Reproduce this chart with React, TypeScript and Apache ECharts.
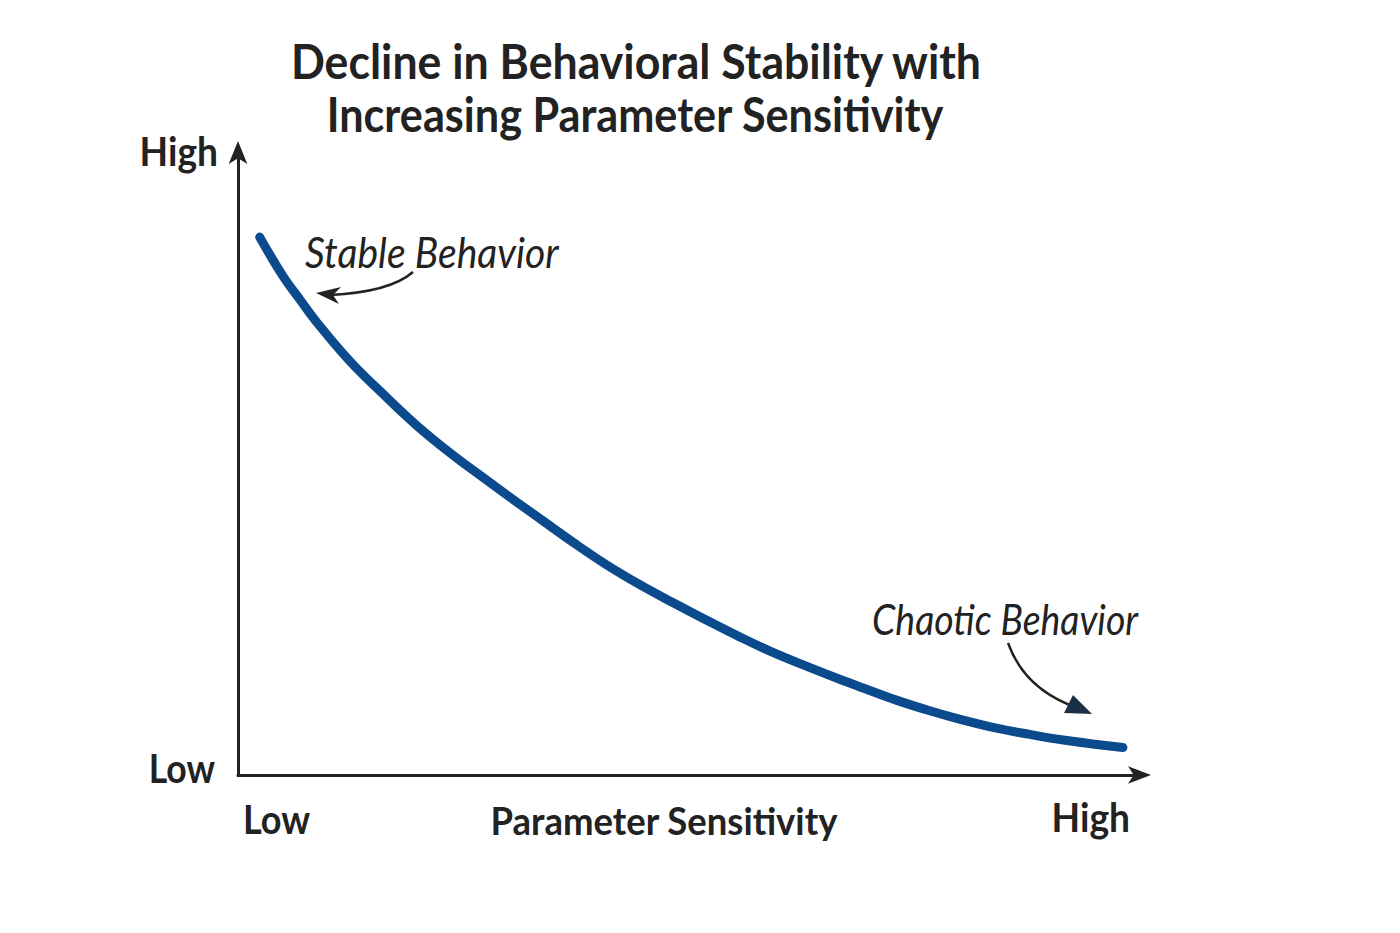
import React, { useEffect, useRef } from "react";
import * as echarts from "echarts";

// Curve: behavioural stability against parameter sensitivity (0–100 scales)
const sensitivity = [2.4, 5.0, 6.9, 8.7, 12.4, 16.1, 19.8, 23.5, 27.2, 30.9, 33.8, 37.1, 40.8, 44.5, 48.2, 51.9, 55.6, 59.3, 63.0, 66.7, 69.3, 72.9, 76.6, 80.3, 84.0, 87.7, 91.4, 95.1, 98.0];
const stability = [86.2, 79.9, 76.1, 72.6, 66.3, 61.0, 56.0, 51.6, 47.6, 43.7, 40.7, 37.3, 33.7, 30.5, 27.6, 24.8, 22.1, 19.6, 17.4, 15.3, 13.9, 12.0, 10.3, 8.8, 7.5, 6.5, 5.6, 4.9, 4.4];

const titleLines = ["Decline in Behavioral Stability with", "Increasing Parameter Sensitivity"];
const yTickLabels = ["Low", "High"];
const xTickLabels = ["Low", "High"];
const xAxisName = "Parameter Sensitivity";
const annotations = ["Stable Behavior", "Chaotic Behavior"];

const FONT = "Lato, 'Noto Sans', sans-serif";
const INK = "#222222";
const CURVE = "#0b4a8c";

function label(text: string, x: number, y: number, size: number, opts: any = {}) {
  return {
    type: "text",
    x,
    y,
    scaleX: opts.scaleX ?? 0.92,
    style: {
      text,
      fill: opts.fill ?? INK,
      font: `${opts.italic ? "italic " : ""}${opts.weight ?? "bold"} ${size}px ${FONT}`,
      align: opts.align ?? "center",
      verticalAlign: "middle",
    },
  };
}

export default function App() {
  const ref = useRef<HTMLDivElement>(null);

  useEffect(() => {
    document.body.style.margin = "0";
    if (!ref.current) return;
    const chart = echarts.init(ref.current, null, { renderer: "svg" });

    const data = sensitivity.map((x, i) => [x, stability[i]]);

    chart.setOption({
      animation: false,
      backgroundColor: "#ffffff",
      grid: { left: 238, right: 259, top: 151, bottom: 158 },
      xAxis: {
        type: "value",
        min: 0,
        max: 100,
        interval: 100,
        axisLine: {
          show: true,
          symbol: ["none", "arrow"],
          symbolSize: [13, 23],
          symbolOffset: [0, 10],
          lineStyle: { color: INK, width: 3 },
        },
        axisTick: { show: false },
        axisLabel: { show: false },
        splitLine: { show: false },
      },
      yAxis: {
        type: "value",
        min: 0,
        max: 100,
        interval: 100,
        axisLine: {
          show: true,
          symbol: ["none", "arrow"],
          symbolSize: [14, 23],
          symbolOffset: [0, 10],
          lineStyle: { color: INK, width: 3 },
        },
        axisTick: { show: false },
        axisLabel: { show: false },
        splitLine: { show: false },
      },
      series: [
        {
          type: "line",
          data,
          smooth: 0.4,
          symbol: "none",
          lineStyle: { color: CURVE, width: 9, cap: "round", join: "round" },
          z: 3,
        },
      ],
      graphic: [
        label(titleLines[0], 636, 60, 48, { scaleX: 0.93 }),
        label(titleLines[1], 635, 114, 48, { scaleX: 0.9 }),
        label(yTickLabels[1], 218, 150, 40, { align: "right", scaleX: 0.93 }),
        label(yTickLabels[0], 215, 768, 40, { align: "right", scaleX: 0.89 }),
        label(xTickLabels[0], 243, 818, 40, { align: "left", scaleX: 0.9 }),
        label(xTickLabels[1], 1130, 816, 40, { align: "right", scaleX: 0.93 }),
        label(xAxisName, 664, 820, 38, { scaleX: 0.96 }),
        label(annotations[0], 305, 252, 42, { align: "left", italic: true, weight: "normal", scaleX: 0.93 }),
        label(annotations[1], 872, 619, 42, { align: "left", italic: true, weight: "normal", scaleX: 0.89 }),
        // pointer from "Stable Behavior" to the curve
        {
          type: "bezierCurve",
          shape: { x1: 413, y1: 272, x2: 330, y2: 295, cpx1: 390, cpy1: 292 },
          style: { stroke: INK, lineWidth: 2.5, fill: "none" },
        },
        {
          type: "polygon",
          shape: { points: [[316, 293], [341, 287], [333, 295], [339, 304]] },
          style: { fill: INK },
        },
        // pointer from "Chaotic Behavior" to the curve
        {
          type: "bezierCurve",
          shape: { x1: 1008, y1: 643, x2: 1078, y2: 708, cpx1: 1025, cpy1: 690 },
          style: { stroke: INK, lineWidth: 2.5, fill: "none" },
        },
        {
          type: "polygon",
          shape: { points: [[1092, 714], [1064, 713], [1073, 695]] },
          style: { fill: "#1c2f48" },
        },
      ],
    });

    return () => chart.dispose();
  }, []);

  return <div ref={ref} style={{ width: 1400, height: 933 }} />;
}
